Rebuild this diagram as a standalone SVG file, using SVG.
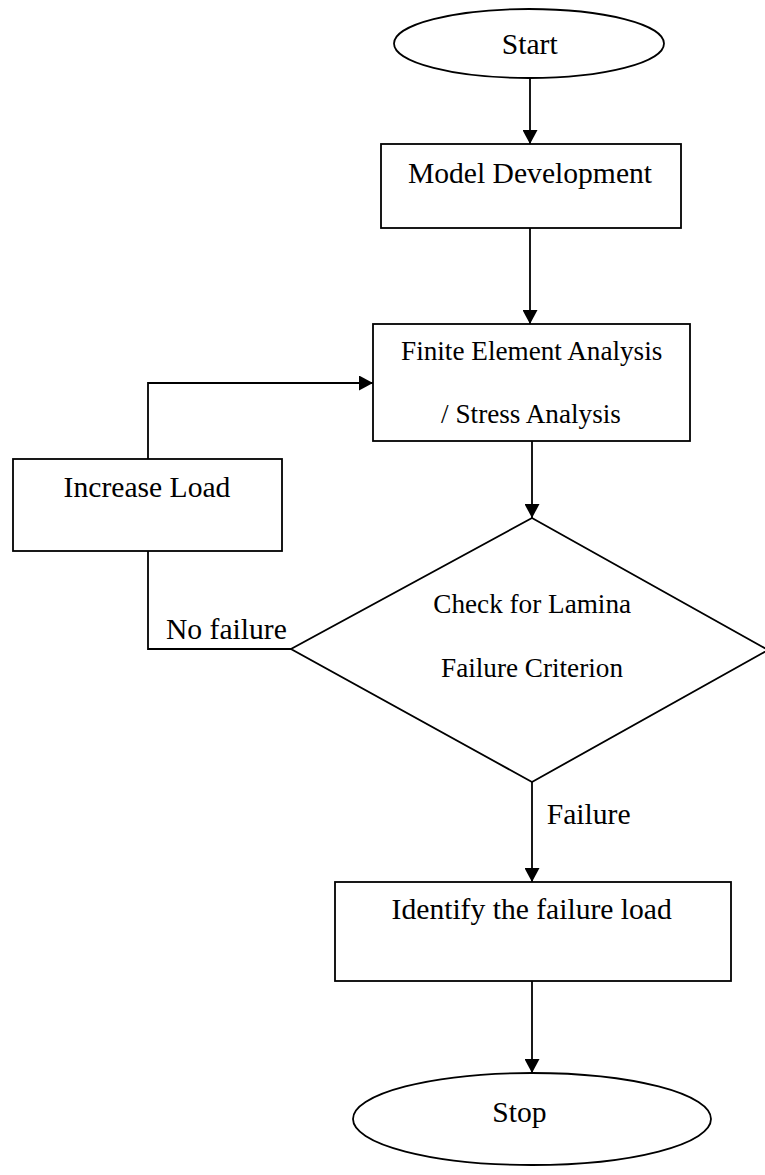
<svg xmlns="http://www.w3.org/2000/svg" width="765" height="1175" viewBox="0 0 765 1175">
<style>
.shape{fill:#fff;stroke:#000;stroke-width:1.8}
.conn{fill:none;stroke:#000;stroke-width:1.8}
text{font-family:"Liberation Serif","Times New Roman",serif;fill:#000;text-anchor:middle}
.big{font-size:29.6px}
.sm{font-size:27.2px}
</style>
<defs>
<marker id="arr" markerUnits="userSpaceOnUse" markerWidth="14" markerHeight="15" refX="14" refY="7.5" orient="auto">
<path d="M0,0 L14,7.5 L0,15 z" fill="#000"/>
</marker>
</defs>
<rect width="765" height="1175" fill="#fff"/>
<g id="connectors">
<path class="conn" d="M530,78 L530,144" marker-end="url(#arr)"/>
<path class="conn" d="M530,228 L530,324" marker-end="url(#arr)"/>
<path class="conn" d="M532,441 L532,518" marker-end="url(#arr)"/>
<path class="conn" d="M291,649 L148,649 L148,551"/>
<path class="conn" d="M148,459 L148,383 L373,383" marker-end="url(#arr)"/>
<path class="conn" d="M532,782 L532,882" marker-end="url(#arr)"/>
<path class="conn" d="M532,981 L532,1073" marker-end="url(#arr)"/>
<text class="big" x="166" y="639" style="text-anchor:start">No failure</text>
<text class="big" x="546.7" y="824" style="text-anchor:start">Failure</text>
</g>
<g id="start">
<ellipse class="shape" cx="529" cy="43.5" rx="135" ry="34.5"/>
<text class="big" x="529.7" y="54">Start</text>
</g>
<g id="model">
<rect class="shape" x="381" y="144" width="300" height="84"/>
<text class="big" x="530" y="183">Model Development</text>
</g>
<g id="fea">
<rect class="shape" x="373" y="324" width="317" height="117"/>
<text class="sm" x="531.7" y="360">Finite Element Analysis</text>
<text class="sm" x="531" y="422.7">/ Stress Analysis</text>
</g>
<g id="increase">
<rect class="shape" x="13" y="459" width="269" height="92"/>
<text class="big" x="147" y="497">Increase Load</text>
</g>
<g id="check">
<polygon class="shape" points="532,518 768,650 532,782 291,649"/>
<text class="sm" x="532.2" y="613">Check for Lamina</text>
<text class="sm" x="532" y="676.7">Failure Criterion</text>
</g>
<g id="identify">
<rect class="shape" x="335" y="882" width="396" height="99"/>
<text class="big" x="531.7" y="919">Identify the failure load</text>
</g>
<g id="stop">
<ellipse class="shape" cx="532" cy="1119" rx="179" ry="46"/>
<text class="big" x="519.5" y="1121.7">Stop</text>
</g>
</svg>
